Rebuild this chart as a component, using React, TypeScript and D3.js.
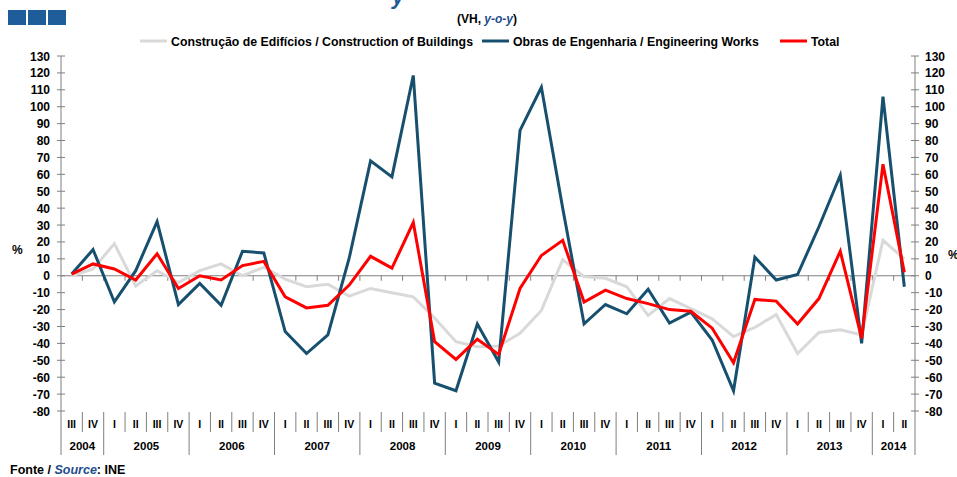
import React, { useRef, useEffect } from 'react';
import * as d3 from 'd3';

const W = 957;
const H = 477;
const MARGIN = { top: 56, right: 42, bottom: 66, left: 61 };

const years = ['2004', '2005', '2006', '2007', '2008', '2009', '2010', '2011', '2012', '2013', '2014'];
const yearQuarters = [
  ['III', 'IV'],
  ['I', 'II', 'III', 'IV'], ['I', 'II', 'III', 'IV'], ['I', 'II', 'III', 'IV'],
  ['I', 'II', 'III', 'IV'], ['I', 'II', 'III', 'IV'], ['I', 'II', 'III', 'IV'],
  ['I', 'II', 'III', 'IV'], ['I', 'II', 'III', 'IV'], ['I', 'II', 'III', 'IV'],
  ['I', 'II'],
];

const buildings = [
  0, 4, 19, -6, 3, -4, 3, 7, 0, 5,
  -2, -6.5, -5, -12, -7.5, -10, -12.5, -25, -39, -42,
  -41.5, -34, -20.5, 9.5, -0.5, -1.5, -6.5, -23.5, -13.5, -19.5,
  -25.5, -36, -30.5, -23, -46, -33.5, -32, -35, 21, 10,
];
const engineering = [
  1, 15.5, -15.5, 3, 32, -17, -4.5, -17.5, 14.5, 13.5,
  -33, -46, -35, 10.5, 68, 58.5, 118.5, -63.5, -68, -28.5,
  -51, 86, 111.5, 40, -28.5, -17, -22.5, -8, -28, -21.5,
  -38, -68, 11, -2.5, 0.7, 29, 59.5, -40, 106, -6.5,
];
const total = [
  1, 7, 4, -2.5, 13, -7.5, 0, -2.5, 6, 8.5,
  -12.5, -19, -17.5, -5.5, 11.5, 4.5, 31.5, -39, -49.5, -37.5,
  -46.5, -7.5, 12, 21, -15.5, -8.5, -13.5, -16.5, -20, -21,
  -31, -51.5, -14, -15, -28.5, -13.5, 14.5, -37, 66, 2,
];

const yTicks = d3.range(-80, 131, 10);

const seriesDefs = [
  { name: 'Construção de Edifícios / Construction of Buildings', values: buildings, color: '#D9D9D9' },
  { name: 'Obras de Engenharia / Engineering Works', values: engineering, color: '#17506E' },
  { name: 'Total', values: total, color: '#FF0000' },
];

const FONT = '"Liberation Sans", Arial, sans-serif';

export default function App() {
  const svgRef = useRef<SVGSVGElement>(null);

  useEffect(() => {
    if (!svgRef.current) return;
    const innerW = W - MARGIN.left - MARGIN.right;
    const innerH = H - MARGIN.top - MARGIN.bottom;

    const idx = d3.range(buildings.length);
    const x = d3.scaleBand<number>().domain(idx).range([0, innerW]);
    const y = d3.scaleLinear().domain([-80, 130]).range([innerH, 0]);
    const cx = (i: number) => (x(i) as number) + x.bandwidth() / 2;

    const svg = d3.select(svgRef.current);
    svg.selectAll('*').remove();
    svg.attr('font-family', FONT).attr('font-weight', 700);

    // header squares
    svg.append('g').selectAll('rect')
      .data([0, 1, 2])
      .join('rect')
      .attr('x', d => 8 + d * 20).attr('y', 10)
      .attr('width', 18).attr('height', 15)
      .attr('fill', '#1F5C9A');

    // clipped title glyph at top
    svg.append('text')
      .attr('x', 392).attr('y', 4)
      .attr('font-size', 22).attr('font-style', 'italic').attr('fill', '#1F5C9A')
      .text('y');

    const sub = svg.append('text')
      .attr('x', 517).attr('y', 23).attr('text-anchor', 'end')
      .attr('font-size', 12).attr('fill', '#000');
    sub.append('tspan').text('(VH, ');
    sub.append('tspan').attr('fill', '#1F4E8C').attr('font-style', 'italic').text('y-o-y');
    sub.append('tspan').text(')');

    // legend
    const legendX = [140, 482, 780];
    const lg = svg.append('g').attr('font-size', 12.3);
    seriesDefs.forEach((s, k) => {
      lg.append('line')
        .attr('x1', legendX[k]).attr('x2', legendX[k] + 27)
        .attr('y1', 41).attr('y2', 41)
        .attr('stroke', s.color).attr('stroke-width', 3);
      lg.append('text')
        .attr('x', legendX[k] + 31).attr('y', 45.5)
        .text(s.name);
    });

    const g = svg.append('g').attr('transform', `translate(${MARGIN.left},${MARGIN.top})`);

    // left axis
    g.append('line').attr('x1', 0).attr('x2', 0).attr('y1', 0).attr('y2', innerH + 44)
      .attr('stroke', '#7F7F7F');
    g.append('g').selectAll('line').data(yTicks).join('line')
      .attr('x1', -4).attr('x2', 4)
      .attr('y1', d => y(d)).attr('y2', d => y(d))
      .attr('stroke', '#7F7F7F');
    g.append('g').attr('font-size', 12).selectAll('text').data(yTicks).join('text')
      .attr('x', -11).attr('y', d => y(d) + 4.5)
      .attr('text-anchor', 'end')
      .text(d => d);

    // right axis
    g.append('line').attr('x1', innerW).attr('x2', innerW).attr('y1', 0).attr('y2', innerH + 44)
      .attr('stroke', '#7F7F7F');
    g.append('g').selectAll('line').data(yTicks).join('line')
      .attr('x1', innerW - 4).attr('x2', innerW + 4)
      .attr('y1', d => y(d)).attr('y2', d => y(d))
      .attr('stroke', '#7F7F7F');
    g.append('g').attr('font-size', 12).selectAll('text').data(yTicks).join('text')
      .attr('x', innerW + 10).attr('y', d => y(d) + 4.5)
      .attr('text-anchor', 'start')
      .text(d => d);

    g.append('text').attr('x', -49).attr('y', y(15) + 4).attr('font-size', 12).text('%');
    g.append('text').attr('x', innerW + 33).attr('y', y(12) + 4).attr('font-size', 12).text('%');

    // zero line with ticks
    g.append('line').attr('x1', 0).attr('x2', innerW).attr('y1', y(0)).attr('y2', y(0))
      .attr('stroke', '#7F7F7F');
    g.append('g').selectAll('line').data(idx.slice(1)).join('line')
      .attr('x1', d => x(d) as number).attr('x2', d => x(d) as number)
      .attr('y1', y(0)).attr('y2', y(0) + 5)
      .attr('stroke', '#7F7F7F');

    // category labels
    const quarterLabels = yearQuarters.flat();
    const boundaries: number[] = [];
    let acc = 0;
    yearQuarters.forEach(q => { acc += q.length; boundaries.push(acc); });
    const cat = g.append('g').attr('font-size', 10.5);
    cat.selectAll('line.q').data(idx.slice(1)).join('line')
      .attr('class', 'q')
      .attr('x1', d => x(d) as number).attr('x2', d => x(d) as number)
      .attr('y1', innerH + 1)
      .attr('y2', d => boundaries.includes(d) ? innerH + 44 : innerH + 21)
      .attr('stroke', '#7F7F7F');
    cat.selectAll('text.q').data(quarterLabels).join('text')
      .attr('class', 'q')
      .attr('x', (_, i) => cx(i)).attr('y', innerH + 17)
      .attr('text-anchor', 'middle')
      .text(d => d);
    let start = 0;
    years.forEach((yr, k) => {
      const n = yearQuarters[k].length;
      const x0 = x(start) as number;
      const x1 = (x(start + n - 1) as number) + x.bandwidth();
      cat.append('text')
        .attr('x', (x0 + x1) / 2).attr('y', innerH + 39)
        .attr('text-anchor', 'middle').attr('font-size', 11.5)
        .text(yr);
      start += n;
    });

    // series
    const line = d3.line<number>()
      .x((_, i) => cx(i))
      .y(d => y(d));
    seriesDefs.forEach(s => {
      g.append('path')
        .datum(s.values)
        .attr('d', line)
        .attr('fill', 'none')
        .attr('stroke', s.color)
        .attr('stroke-width', 3)
        .attr('stroke-linejoin', 'miter');
    });

    // source
    const src = svg.append('text').attr('x', 10).attr('y', 474).attr('font-size', 12.5);
    src.append('tspan').text('Fonte / ');
    src.append('tspan').attr('fill', '#1F4E8C').attr('font-style', 'italic').text('Source');
    src.append('tspan').text(': INE');
  }, []);

  return (
    <svg ref={svgRef} width={W} height={H}
      style={{ position: 'absolute', left: 0, top: 0, background: '#fff' }} />
  );
}
